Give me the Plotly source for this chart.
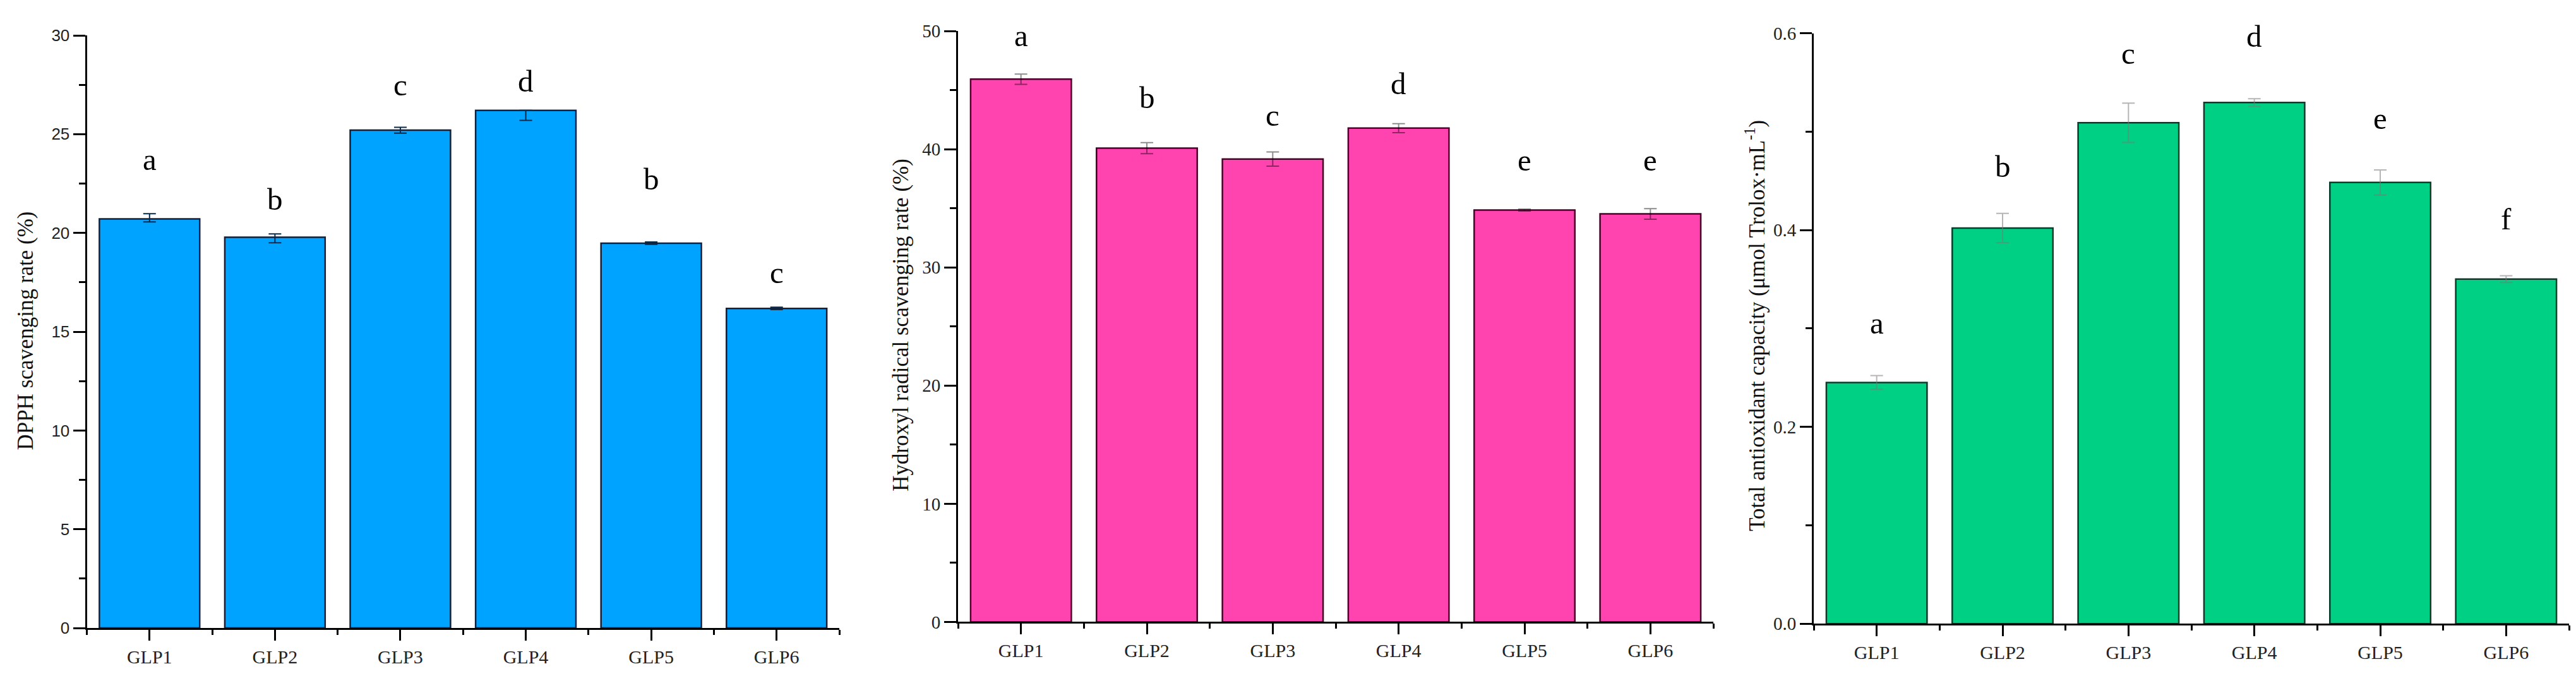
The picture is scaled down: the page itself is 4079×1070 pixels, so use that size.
import plotly.graph_objects as go

# ---------------- data ----------------
categories = ["GLP1", "GLP2", "GLP3", "GLP4", "GLP5", "GLP6"]

dpph = [20.71, 19.78, 25.20, 26.20, 19.48, 16.18]
dpph_err_plus = [0.26, 0.17, 0.15, 0.0, 0.06, 0.06]
dpph_err_minus = [0.15, 0.28, 0.15, 0.5, 0.06, 0.06]
dpph_letters = ["a", "b", "c", "d", "b", "c"]
dpph_letter_y = [22.59, 20.57, 26.35, 26.55, 21.6, 16.85]

hydroxyl = [45.93, 40.09, 39.17, 41.79, 34.85, 34.53]
hydroxyl_err = [0.43, 0.47, 0.60, 0.38, 0.08, 0.45]
hydroxyl_letters = ["a", "b", "c", "d", "e", "e"]
hydroxyl_letter_y = [47.7, 42.45, 41.0, 43.63, 37.19, 37.19]

tac = [0.2451, 0.4020, 0.5090, 0.5295, 0.4483, 0.3501]
tac_err = [0.007, 0.015, 0.020, 0.004, 0.0127, 0.0035]
tac_letters = ["a", "b", "c", "d", "e", "f"]
tac_letter_y = [0.2827, 0.4419, 0.5567, 0.5737, 0.4908, 0.3888]

y_titles = [
    "DPPH scavenging rate (%)",
    "Hydroxyl radical scavenging rate (%)",
    "Total antioxidant capacity (μmol Trolox·mL<sup>-1</sup>)",
]

# ---------------- figure ----------------
W, H = 4079, 1070
SERIF = "Liberation Serif, Times New Roman, serif"
SANS = "Liberation Sans, Arial, sans-serif"

xpos = list(range(len(categories)))

panels = [
    dict(vals=dpph, ep=dpph_err_plus, em=dpph_err_minus, letters=dpph_letters, ly=dpph_letter_y,
         color="#00A3FF", line="#14203a", err="#0b2a4a",
         xdom=[129.5, 1321], ybot=1000, ytop=33, yr=[0, 30], dt=5, mdt=2.5,
         tfont=dict(family=SANS, size=26, color="#222"), tfmt=None,
         title_x=33, title_y=515),
    dict(vals=hydroxyl, ep=hydroxyl_err, em=hydroxyl_err, letters=hydroxyl_letters, ly=hydroxyl_letter_y,
         color="#FF44B0", line="#4a0028", err="rgba(0,0,0,0.45)",
         xdom=[1509, 2705], ybot=990, ytop=26, yr=[0, 50], dt=10, mdt=5,
         tfont=dict(family=SERIF, size=29, color="#222"), tfmt=None,
         title_x=1419, title_y=506),
    dict(vals=tac, ep=tac_err, em=tac_err, letters=tac_letters, ly=tac_letter_y,
         color="#00D084", line="#0d3b2b", err="rgba(120,120,120,0.55)",
         xdom=[2864, 4060], ybot=993, ytop=29.4, yr=[0, 0.6], dt=0.2, mdt=0.1,
         tfont=dict(family=SERIF, size=29, color="#222"), tfmt=".1f",
         title_x=2772, title_y=507),
]

fig = go.Figure()
annotations = []

for i, p in enumerate(panels):
    n = "" if i == 0 else str(i + 1)
    xa, ya = "x" + n, "y" + n
    fig.add_trace(go.Bar(
        x=xpos, y=p["vals"], width=0.8,
        marker=dict(color=p["color"], line=dict(color=p["line"], width=2.5)),
        error_y=dict(type="data", symmetric=False, array=p["ep"], arrayminus=p["em"],
                     color=p["err"], thickness=2, width=10),
        xaxis=xa, yaxis=ya, showlegend=False,
    ))
    xdom = [p["xdom"][0] / W, p["xdom"][1] / W]
    ydom = [(H - p["ybot"]) / H, (H - p["ytop"]) / H]
    xkey = "xaxis" + n
    ykey = "yaxis" + n
    fig.layout[xkey] = dict(
        domain=xdom, anchor=ya, range=[-0.5, len(categories) - 0.5],
        tickmode="array", tickvals=xpos, ticktext=categories,
        ticks="outside", ticklen=17, tickwidth=3, tickcolor="black",
        showline=True, linecolor="black", linewidth=3,
        showgrid=False, zeroline=False,
        tickfont=dict(family=SERIF, size=30, color="#222"),
        minor=dict(tickmode="linear", tick0=-0.5, dtick=1, ticks="outside",
                   ticklen=8, tickwidth=3, tickcolor="black", showgrid=False),
        fixedrange=True,
    )
    yax = dict(
        domain=ydom, anchor=xa, range=p["yr"],
        tickmode="linear", tick0=0, dtick=p["dt"],
        ticks="outside", ticklen=19, tickwidth=3, tickcolor="black",
        showline=True, linecolor="black", linewidth=3,
        showgrid=False, zeroline=False,
        tickfont=p["tfont"],
        minor=dict(tickmode="linear", tick0=0, dtick=p["mdt"], ticks="outside",
                   ticklen=10, tickwidth=3, tickcolor="black", showgrid=False),
        fixedrange=True,
    )
    if p["tfmt"]:
        yax["tickformat"] = p["tfmt"]
    fig.layout[ykey] = yax

    for xi, lt, yv in zip(xpos, p["letters"], p["ly"]):
        annotations.append(dict(
            x=xi, y=yv, xref=xa, yref=ya, text=lt, showarrow=False,
            xanchor="center", yanchor="bottom", yshift=6,
            font=dict(family=SERIF, size=49, color="black"),
        ))
    annotations.append(dict(
        x=p["title_x"] / W, y=(H - p["title_y"]) / H, xref="paper", yref="paper",
        text=y_titles[i], showarrow=False, textangle=-90,
        xanchor="center", yanchor="middle",
        font=dict(family=SERIF, size=35, color="#111"),
    ))

fig.update_layout(
    width=W, height=H,
    margin=dict(l=0, r=0, t=0, b=0),
    paper_bgcolor="white", plot_bgcolor="white",
    bargap=0.2,
    annotations=annotations,
)

fig.write_html("out.html")
